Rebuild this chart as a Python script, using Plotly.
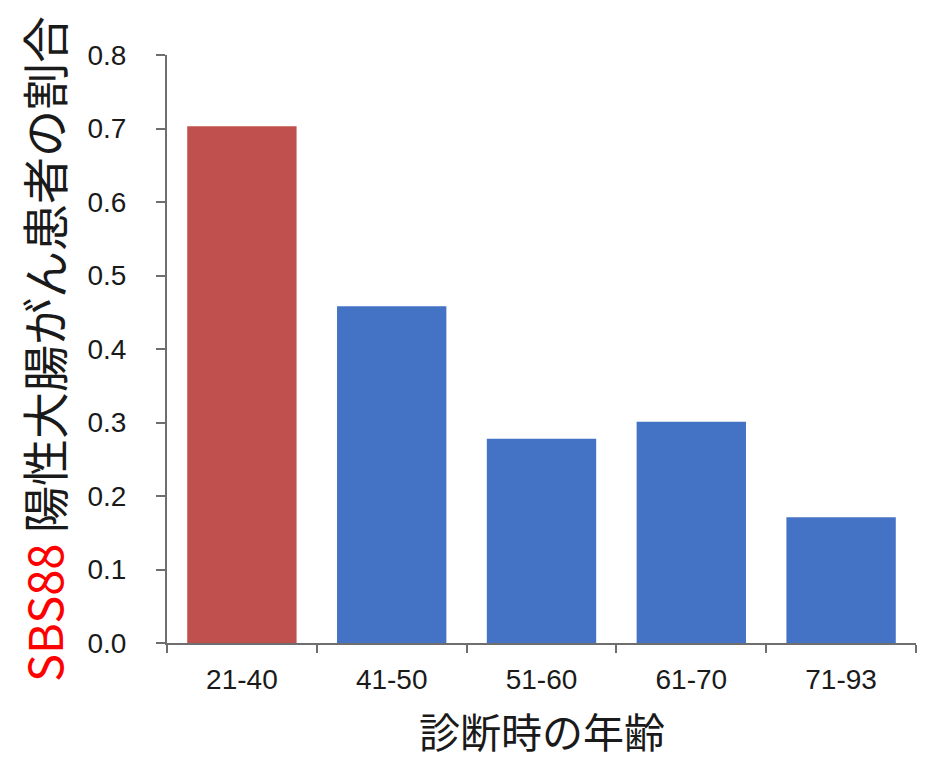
import plotly.graph_objects as go

categories = ["21-40", "41-50", "51-60", "61-70", "71-93"]
values = [0.703, 0.458, 0.278, 0.301, 0.171]
bar_colors = ["#C0504D", "#4472C4", "#4472C4", "#4472C4", "#4472C4"]
y_ticks = [0.0, 0.1, 0.2, 0.3, 0.4, 0.5, 0.6, 0.7, 0.8]
y_tick_labels = ["0.0", "0.1", "0.2", "0.3", "0.4", "0.5", "0.6", "0.7", "0.8"]
x_title = "診断時の年齢"
y_title = "<span style='color:#FF0000'>SBS88</span> 陽性大腸がん患者の割合"

cjk = "Noto Sans CJK JP"
latin = "Liberation Sans, Arial, sans-serif"

fig = go.Figure(
    go.Bar(
        x=categories,
        y=values,
        marker=dict(color=bar_colors, line=dict(width=0)),
        hoverinfo="x+y",
    )
)

fig.update_layout(
    width=940,
    height=753,
    paper_bgcolor="white",
    plot_bgcolor="white",
    margin=dict(l=159, r=32, t=47, b=118),
    bargap=0.27,
    showlegend=False,
)

fig.update_xaxes(
    type="category",
    showline=True,
    linecolor="#6e6e6e",
    linewidth=2,
    ticks="outside",
    tickson="boundaries",
    ticklen=8,
    tickwidth=2,
    tickcolor="#6e6e6e",
    showgrid=False,
    tickfont=dict(family=latin, size=28, color="#1a1a1a"),
    ticklabelstandoff=10,
    automargin=False,
)

fig.add_annotation(
    text=x_title,
    xref="paper", yref="paper",
    x=0.5, y=0,
    xanchor="center", yanchor="middle",
    yshift=-87,
    showarrow=False,
    font=dict(family=cjk, size=41, color="#1a1a1a"),
)

fig.update_yaxes(
    range=[0, 0.8],
    tickvals=y_ticks,
    ticktext=y_tick_labels,
    showline=True,
    linecolor="#6e6e6e",
    linewidth=2,
    ticks="outside",
    ticklen=9,
    tickwidth=2,
    tickcolor="#6e6e6e",
    showgrid=False,
    zeroline=False,
    tickfont=dict(family=latin, size=28, color="#1a1a1a"),
    ticklabelstandoff=24,
    title=dict(
        text=y_title,
        font=dict(family=cjk, size=47, color="#1a1a1a"),
        standoff=16,
    ),
    automargin=False,
)

fig.write_html("out.html")
